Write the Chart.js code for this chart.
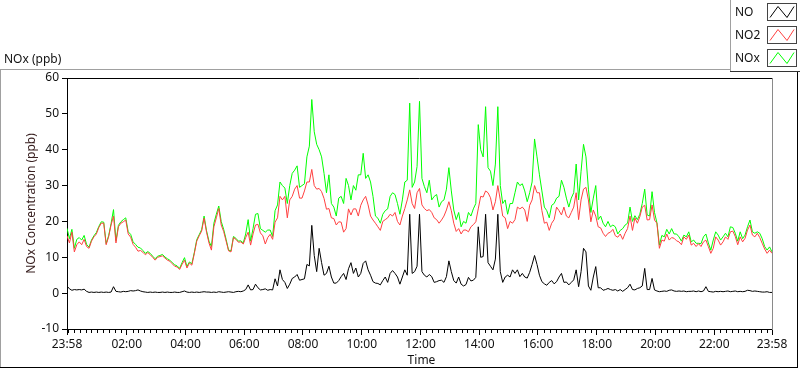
<!DOCTYPE html>
<html><head><meta charset="utf-8">
<script src="https://cdn.jsdelivr.net/npm/chart.js@4.4.1/dist/chart.umd.min.js"></script>
<style>html,body{margin:0;padding:0;background:#fff;overflow:hidden}#wrap{position:relative;width:800px;height:369px}</style>
</head><body><div id="wrap"><canvas id="c" width="800" height="369"></canvas></div>
<script>
// Samples every 5 minutes, starting at 23:58 (minute 0) through 23:58 next day (minute 1440)
const seriesNames = ['NO', 'NO2', 'NOx'];
const NO = [
2.0,1.2,0.8,1.0,0.9,1.0,0.9,1.1,0.5,0.2, 0.3,0.2,0.3,0.2,0.3,0.2,0.3,0.2,0.3,1.8,
0.5,0.4,0.3,0.5,0.4,0.5,0.7,0.6,0.7,0.9, 0.6,0.4,0.3,0.2,0.3,0.2,0.3,0.2,0.2,0.3,
0.2,0.3,0.2,0.2,0.3,0.2,0.2,0.4,0.6,0.3, 0.2,0.3,0.2,0.3,0.2,0.3,0.4,0.3,
0.3,0.2,0.3,0.2,0.4,0.3,0.2,0.3,0.4,0.3,0.2,0.4,0.5,0.4,0.6,
1.0,2.3,0.9,1.0,2.5,1.5,0.9,1.0,1.2,0.8, 1.0,0.9,4.0,2.0,6.5,3.8,3.0,1.3,2.5,4.1,
4.5,5.2,3.6,3.8,4.0,8.0,7.6,18.9,10.5,6.0, 12.5,8.5,5.0,5.5,7.5,4.5,2.8,2.8,3.5,4.6,
5.5,3.8,6.8,8.5,
5.5,7,4.5,5.5,8.3,9,6.5,5,3.2,2.8, 2.7,2.3,3.5,4.5,3,5.5,6.3,5.5,4.5,2.5,
4.5,6.5,5,22,5.5,6,7.5,22,6,5, 4.5,5.2,4.6,3,3.2,3.5,3.6,3,4.6,9,
6,3.5,2.8,4.5,2.5,2,2.4,4.4,3.4,3.6, 4.4,18.5,10,10.2,22,8.5,7.5,6.5,
9.5,22,6,3,4.5,5,4.5,6.5,5.5,6.5, 4.6,5.5,4.5,4.2,5.8,8,10.5,8,5,3.2,
2.6,2.2,3,3.5,2.6,3.2,4.5,5.5,3,3.1, 2.3,3,3.7,6.5,1.8,6,12.5,11.5,2,0.8,
4.5,7.4,1.5,1.5,0.8,1,1.3,1,0.8,1, 0.6,1,0.5,1,1.5,2.5,1,0.9,
1.3,1.5,2,6.9,1,1,4.1,0.9,0.6,0.4, 0.5,0.6,0.5,0.8,0.9,0.6,0.5,0.6,0.5,0.6,
0.4,0.5,0.5,0.6,0.4,0.6,0.4,0.6,1.8,0.5, 0.4,0.3,0.5,0.4,0.5,0.4,0.5,0.6,0.4,0.5,
0.6,0.4,0.5,0.4,0.5,0.8,0.7,0.5,0.6,0.5, 0.4,0.3,0.3,0.4,0.2,0.2
];
const NO2 = [
16,14,17,11.5,13.5,14.3,13.5,15,13,12.5, 14.5,15.7,16.5,18.3,19.5,19.5,13.5,15.7,19,21.5,
14,18.5,19.5,19.9,20.4,16.5,15.6,13.6,12.8,11.7, 11.9,11.4,10.7,11.3,10.7,10,9.2,10,10.2,10.4,
9.8,9.2,8.9,8.2,7.5,7.3,6.6,8,9.2,7, 8.4,7.8,11,14.5,16,17.3,20.9,17,
14,12,18.5,21,23.6,19,17.2,14.5,11.8,11.5,15.5,15,14.2,14.3,13.7,
15.5,17,13.4,16.5,19,19.2,16.8,16,13.7,15.5, 16.4,15,19.8,21,27,26,27,21,26,27,
29,30,26.5,26.5,28.5,31,31,34.5,30,29, 29.2,28.3,26.4,23.4,23.6,21,20.8,19,19.9,19.8,
17,18,23.5,21.8,
23.5,23.5,21.5,24.5,26,27,24.6,21.5,20.4,19.5, 18.5,17.5,20,20.5,21,22,21.5,22.5,20,19,
21.5,23.6,26,28.8,25,23.6,28,29.2,24.6,23.6, 23,23.3,22.5,21,20.5,19.5,20.4,21.5,23.2,25.5,
23,19.5,17.2,18,16.5,17.6,17.6,17.1,18.5,19.1, 19.9,23.5,27,26.8,28.5,28,26.6,23.2,
25.5,30,26,21.5,21,18,20,19.5,20.5,24, 23.5,24,23.2,20,24.5,26,30,28,28,23,
19.5,19.8,17.5,19.5,20.5,24,23,21.8,24,21.5, 21,22.5,24,28,20.5,26,29,29.5,26,19.9,
23.2,21.5,18.5,18.2,16.7,15.8,16.7,17,17.8,16, 15.6,16.5,15,16.7,18,21.5,17.5,21,
19.5,21.3,24,24.5,20.4,20.5,24.6,20.4,19.5,12.5, 14.8,14.5,16.5,14.8,15.5,15.3,14.6,14.3,13.5,15.7,
15,16.2,13.4,13.9,13,13.8,13,14.3,14.8,13, 11.1,12.5,15.7,14.8,13.4,14.3,15.7,15,17.1,17.3,
15.8,13.5,15.7,14.3,15.3,17.6,19,16.2,15.7,16.7, 15.5,13.9,12.3,11.1,12,11.1
];
const NOx = [
18.1,15.2,17.8,12.5,15,15.5,14.8,16.1,13.6,12.8, 14.8,16,16.9,18.6,19.9,19.8,13.8,16,19.4,23.3,
14.6,18.9,19.9,20.5,21,17.1,16.4,14.3,13.6,12.8, 12.6,11.9,11.1,11.6,11.1,10.3,9.6,10.3,10.5,10.8,
10.1,9.6,9.2,8.5,7.9,7.6,6.9,8.5,9.9,7.4, 8.7,8.2,11.3,14.9,16.3,17.7,21.5,17.4,
14.5,13,19.5,22,24.3,20,17.8,15,12,11.8,15.8,15.3,14.5,14.6,14,
16.5,20.5,14.5,18,22,22.2,18,17.5,17,17.6, 17.6,15.8,23,24.6,31,30,29.3,25,30,33.4,
34.3,35.5,29.5,30,30.5,38,41,54,45,41.5, 40,38,33.4,28,33,25,24,21.5,26.5,27,
25,32,30,26,
30,28.7,33,33,39,32,33,31,27,21.5, 20.9,19.5,22,23,23.5,27,28,27.5,25,22,
26,31,31.5,53,29.5,31,35.3,53.5,32,29.7, 28,31.5,26,27,27.5,24,25.5,26,29,35,
28.5,23.2,20.5,22.5,18.5,20,19.5,22.5,21.5,23.5, 25,47,40,38,52,35,34,30,
36,52,30,25,26,22,25,25,28,31, 30,30.5,28.5,25.5,28,31,43,38,33,28.5,
24,23,21,24.5,25,26.5,27,31.5,29.5,26.5, 24,26.5,28,36,26,34,41.5,38,29,22.5,
26.5,30,20.5,21.5,19.5,18.5,20,18.5,19,18.5, 16.5,17.5,18,19,19.5,24,20,21.6,
20.5,22,25,29,21.8,21.5,28.3,22.5,19.6,13.4, 16.1,15.7,17.8,16.5,18,16.5,16.5,15.7,14.5,16.2,
15.7,17.1,14.3,14.8,13.9,13.9,13.8,15.7,16.5,14, 12,14.8,17.1,16.2,14.8,15.7,16.7,15.7,18.5,18.3,
16.7,14.5,17.1,15.2,16.2,18.5,20.4,17.1,16.7,17.1, 16.7,15.2,13,12,12.9,11.5
];
const minutes = NO2.map((_, i) => i * 5);
const tickMinutes = [0,122,242,362,482,602,722,842,962,1082,1202,1322,1440];
const tickLabels = ['23:58','02:00','04:00','06:00','08:00','10:00','12:00','14:00','16:00','18:00','20:00','22:00','23:58'];
const yTickValues = [-10,0,10,20,30,40,50,60];
const seriesColors = ['#000000', '#ff4040', '#00ff00'];

const FONT = '"Noto Sans", "Liberation Sans", sans-serif';
const toPts = arr => minutes.map((m, i) => ({x: m, y: arr[i]}));

const decor = {
  id: 'decor',
  afterDraw(chart) {
    const c = chart.ctx, a = chart.chartArea, xs = chart.scales.x;
    c.save();
    c.lineWidth = 1;
    c.strokeStyle = '#000';
    c.beginPath(); c.moveTo(a.left, Math.round(a.top) + 0.5); c.lineTo(a.right, Math.round(a.top) + 0.5); c.stroke();
    c.strokeStyle = '#8a8a8a';
    c.beginPath(); c.moveTo(Math.round(a.right) + 0.5, a.top); c.lineTo(Math.round(a.right) + 0.5, a.bottom + 1); c.stroke();
    c.strokeStyle = '#000';
    c.beginPath();
    for (let t = 2; t < 1440; t += 12) {
      if (tickMinutes.includes(t)) continue;
      const px = Math.round(xs.getPixelForValue(t)) + 0.5;
      c.moveTo(px, a.bottom); c.lineTo(px, a.bottom + 4);
    }
    c.stroke();
    c.strokeStyle = '#a0a0a0';
    c.beginPath(); c.moveTo(0, 69.5); c.lineTo(730, 69.5); c.stroke();
    c.beginPath(); c.moveTo(0.5, 69.5); c.lineTo(0.5, 367); c.stroke();
    c.strokeStyle = '#000';
    c.beginPath(); c.moveTo(0, 367.5); c.lineTo(798, 367.5); c.stroke();
    c.beginPath(); c.moveTo(797.5, 72); c.lineTo(797.5, 368); c.stroke();
    c.fillStyle = '#111';
    c.font = '12px ' + FONT;
    c.textBaseline = 'middle';
    c.textAlign = 'left';
    c.fillText('NOx (ppb)', 4, 60);
    c.textAlign = 'center';
    c.fillText('Time', (a.left + a.right) / 2 + 2, 361);
    c.save();
    c.translate(32, (a.top + a.bottom) / 2);
    c.rotate(-Math.PI / 2);
    c.fillStyle = '#3a2222';
    c.fillText('NOx Concentration (ppb)', 0, 0);
    c.restore();
    c.fillStyle = '#fff';
    c.fillRect(731, 0, 69, 71);
    c.strokeStyle = '#a0a0a0';
    c.beginPath(); c.moveTo(730.5, 0); c.lineTo(730.5, 72); c.stroke();
    c.strokeStyle = '#333';
    c.beginPath(); c.moveTo(730, 71.5); c.lineTo(800, 71.5); c.stroke();
    const rows = [3.5, 26.5, 49.5];
    seriesNames.forEach((name, i) => {
      const y0 = rows[i];
      c.fillStyle = '#111';
      c.textAlign = 'left';
      c.fillText(name, 735, y0 + 9);
      c.strokeStyle = '#444';
      c.strokeRect(767.5, y0, 29, 17);
      c.strokeStyle = seriesColors[i];
      c.beginPath();
      c.moveTo(770, y0 + 14); c.lineTo(778, y0 + 3); c.lineTo(787, y0 + 14); c.lineTo(794, y0 + 3);
      c.stroke();
    });
    c.restore();
  }
};

const ds = (i, arr) => ({label: seriesNames[i], data: toPts(arr), borderColor: seriesColors[i],
  borderWidth: 1, pointRadius: 0, tension: 0});

new Chart(document.getElementById('c'), {
  type: 'line',
  data: {datasets: [ds(0, NO), ds(1, NO2), ds(2, NOx)]},
  options: {
    responsive: false,
    animation: false,
    events: [],
    layout: {padding: {left: 0, right: 28, top: 78, bottom: 0}},
    plugins: {legend: {display: false}, tooltip: {enabled: false}},
    scales: {
      x: {
        type: 'linear', min: 0, max: 1440,
        afterBuildTicks: s => { s.ticks = tickMinutes.map(v => ({value: v})); },
        afterFit: s => { s.height = 40; },
        ticks: {autoSkip: false, maxRotation: 0, padding: 2, color: '#111', font: {family: FONT, size: 12},
                callback: (v, i) => tickLabels[i]},
        grid: {drawOnChartArea: false, drawTicks: true, tickLength: 6, color: '#000'},
        border: {color: '#000', width: 1}
      },
      y: {
        min: -10, max: 60,
        afterBuildTicks: s => { s.ticks = yTickValues.map(v => ({value: v})); },
        afterFit: s => { s.width = 67; },
        ticks: {padding: 3, color: '#111', font: {family: FONT, size: 12}},
        grid: {drawOnChartArea: false, drawTicks: true, tickLength: 5, color: '#000'},
        border: {color: '#000', width: 1}
      }
    }
  },
  plugins: [decor]
});
</script></body></html>
